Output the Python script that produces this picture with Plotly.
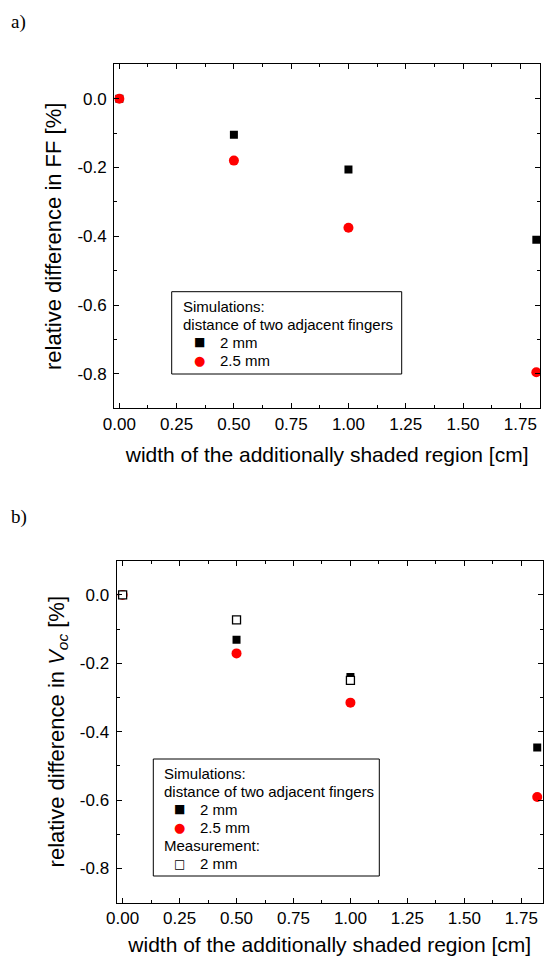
import plotly.graph_objects as go

# ---- data ----------------------------------------------------------------
# shaded width [cm]
width_sim = [0.0, 0.5, 1.0, 1.82]
width_meas = [0.0, 0.5, 1.0]

# a) relative difference in FF [%]
ff_2mm = [0.0, -0.105, -0.206, -0.41]
ff_25mm = [0.0, -0.180, -0.375, -0.795]

# b) relative difference in Voc [%]
voc_2mm = [0.0, -0.131, -0.240, -0.446]
voc_25mm = [0.0, -0.171, -0.315, -0.591]
voc_meas_2mm = [0.0, -0.073, -0.250]

x_ticks = [0.0, 0.25, 0.5, 0.75, 1.0, 1.25, 1.5, 1.75]
x_ticklabels = ["0.00", "0.25", "0.50", "0.75", "1.00", "1.25", "1.50", "1.75"]
y_ticks = [0.0, -0.2, -0.4, -0.6, -0.8]
y_ticklabels = ["0.0", "-0.2", "-0.4", "-0.6", "-0.8"]

W, H = 544, 963
SANS = "Liberation Sans, Arial, Helvetica, sans-serif"
SERIF = "Liberation Serif, Times New Roman, serif"
GLYPH = "DejaVu Sans, sans-serif"

fig = go.Figure()

sq = dict(symbol="square", size=8, color="black")
dot = dict(symbol="circle", size=10, color="red")
opensq = dict(symbol="square", size=8, color="white",
              line=dict(color="black", width=1.3))

# panel a
fig.add_trace(go.Scatter(x=width_sim, y=ff_2mm, mode="markers", marker=sq,
                         name="2 mm", xaxis="x", yaxis="y"))
fig.add_trace(go.Scatter(x=width_sim, y=ff_25mm, mode="markers", marker=dot,
                         name="2.5 mm", xaxis="x", yaxis="y"))

# panel b
fig.add_trace(go.Scatter(x=width_sim, y=voc_2mm, mode="markers", marker=sq,
                         name="2 mm", xaxis="x2", yaxis="y2"))
fig.add_trace(go.Scatter(x=width_sim, y=voc_25mm, mode="markers", marker=dot,
                         name="2.5 mm", xaxis="x2", yaxis="y2"))
fig.add_trace(go.Scatter(x=width_meas, y=voc_meas_2mm, mode="markers", marker=opensq,
                         name="2 mm (measured)", xaxis="x2", yaxis="y2"))


def xaxis(domain, rng, anchor, standoff):
    return dict(domain=domain, range=rng, anchor=anchor, automargin=False,
                tickmode="array", tickvals=x_ticks, ticktext=x_ticklabels,
                ticks="inside", ticklen=5, tickwidth=1.2, tickcolor="black",
                minor=dict(dtick=0.125, tick0=0, ticks="inside", ticklen=3,
                           tickwidth=1.2, tickcolor="black"),
                showline=True, linecolor="black", linewidth=1.3, mirror="ticks",
                showgrid=False, zeroline=False,
                tickfont=dict(family=SANS, size=17, color="black"),
                title=dict(text="width of the additionally shaded region [cm]",
                           font=dict(family=SANS, size=21, color="black"),
                           standoff=standoff))


def yaxis(domain, anchor, title):
    return dict(domain=domain, range=[-0.9, 0.1], anchor=anchor, automargin=False,
                tickmode="array", tickvals=y_ticks, ticktext=y_ticklabels,
                ticks="inside", ticklen=5, tickwidth=1.2, tickcolor="black",
                minor=dict(dtick=0.1, tick0=0, ticks="inside", ticklen=3,
                           tickwidth=1.2, tickcolor="black"),
                showline=True, linecolor="black", linewidth=1.3, mirror="ticks",
                showgrid=False, zeroline=False, ticklabelstandoff=3,
                tickfont=dict(family=SANS, size=17, color="black"),
                title=dict(text=title,
                           font=dict(family=SANS, size=22, color="black"),
                           standoff=9))


# hand-built legend boxes: frame, header lines, symbol keys and labels
def legend_box(x0, y0, x1, y1, text_x, key_x, label_x, rows):
    shapes = [dict(type="rect", xref="paper", yref="paper",
                   x0=x0 / W, x1=x1 / W, y0=1 - y1 / H, y1=1 - y0 / H,
                   line=dict(color="black", width=1), fillcolor="white",
                   layer="above")]
    annots = []
    for kind, y, text, key in rows:
        if kind == "header":
            annots.append(dict(text=text, x=text_x / W, y=1 - y / H,
                               xanchor="left", yanchor="middle"))
        else:
            glyph, colour, size = key
            annots.append(dict(text=glyph, x=key_x / W, y=1 - y / H,
                               xanchor="center", yanchor="middle",
                               font=dict(family=GLYPH, size=size, color=colour)))
            annots.append(dict(text=text, x=label_x / W, y=1 - y / H,
                               xanchor="left", yanchor="middle"))
    return shapes, annots


KEY_SQ = ("\u25A0", "black", 12)
KEY_DOT = ("\u25CF", "red", 13)
KEY_OPEN = ("\u25A1", "black", 12)

sh_a, an_a = legend_box(
    171.7, 291.7, 401.7, 374.0, 182.3, 199.0, 219.3,
    [("header", 306.7, "Simulations:", None),
     ("header", 324.3, "distance of two adjacent fingers", None),
     ("item", 342.3, "2 mm", KEY_SQ),
     ("item", 360.0, "2.5 mm", KEY_DOT)])

sh_b, an_b = legend_box(
    153.3, 759.0, 379.3, 876.0, 162.7, 179.3, 199.3,
    [("header", 773.3, "Simulations:", None),
     ("header", 791.0, "distance of two adjacent fingers", None),
     ("item", 809.3, "2 mm", KEY_SQ),
     ("item", 827.3, "2.5 mm", KEY_DOT),
     ("header", 845.5, "Measurement:", None),
     ("item", 863.5, "2 mm", KEY_OPEN)])

annotations = []
for a in an_a + an_b:
    a.setdefault("font", dict(family=SANS, size=15, color="black"))
    a.update(xref="paper", yref="paper", showarrow=False, borderpad=0)
    annotations.append(a)

annotations += [
    dict(text="a)", x=10 / W, y=1 - 22 / H, xref="paper", yref="paper",
         xanchor="left", yanchor="middle", showarrow=False, borderpad=0,
         font=dict(family=SERIF, size=19, color="black")),
    dict(text="b)", x=10 / W, y=1 - 517 / H, xref="paper", yref="paper",
         xanchor="left", yanchor="middle", showarrow=False, borderpad=0,
         font=dict(family=SERIF, size=19, color="black")),
]

fig.update_layout(
    template="none",
    width=W, height=H,
    margin=dict(l=0, r=0, t=0, b=0),
    paper_bgcolor="white", plot_bgcolor="white",
    showlegend=False,
    xaxis=xaxis([114.3 / W, 540 / W], [-0.022, 1.836], "y", 14),
    yaxis=yaxis([1 - 408.3 / H, 1 - 64.3 / H], "x",
                "relative difference in FF [%]"),
    xaxis2=xaxis([116.7 / W, 542.7 / W], [-0.026, 1.844], "y2", 10),
    yaxis2=yaxis([1 - 902.7 / H, 1 - 560.7 / H], "x2",
                 "relative difference in <i>V</i><sub><i>oc</i></sub> [%]"),
    shapes=sh_a + sh_b,
    annotations=annotations,
)

fig.write_html("out.html")
